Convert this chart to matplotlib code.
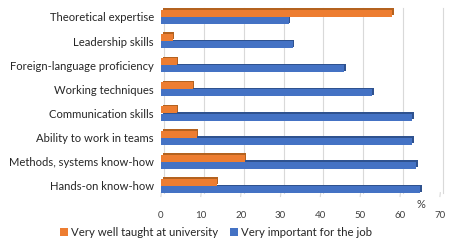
import matplotlib.pyplot as plt
import matplotlib.transforms as mtransforms
import numpy as np

plt.rcParams['font.family'] = ['Lato', 'DejaVu Sans']

# categories listed bottom to top
categories = ['Hands-on know-how', 'Methods, systems know-how', 'Ability to work in teams',
              'Communication skills', 'Working techniques', 'Foreign-language proficiency',
              'Leadership skills', 'Theoretical expertise']
taught = [14, 21, 9, 4, 8, 4, 3, 58]
important = [65, 64, 63, 63, 53, 46, 33, 32]
series_names = ['Very well taught at university', 'Very important for the job']
xticks = [0, 10, 20, 30, 40, 50, 60, 70]

orange, orange_dark = '#ED7D31', '#B4621F'
blue, blue_dark = '#4472C4', '#2F528F'

fig = plt.figure(figsize=(4.53, 2.45), dpi=100)
ax = fig.add_axes([161 / 453, 1 - 197 / 245, 279 / 453, 189 / 245])
ax.set_xlim(0, 70)
ax.set_ylim(-0.46, 7.37)

# back-wall gridlines shifted a bit (pseudo 3D), with a short floor tail
shift = mtransforms.offset_copy(ax.transData, fig=fig, x=3, y=0, units='dots')
for t in xticks:
    ax.plot([t, t], [-0.28, 7.37], color='#D9D9D9', lw=0.8, transform=shift, zorder=0, clip_on=False)
    ax.plot([t + 0.08, t - 0.02], [-0.28, -0.44], color='#D9D9D9', lw=0.8, zorder=0, clip_on=False)

y = np.arange(len(categories))
h = 0.29
depth = mtransforms.offset_copy(ax.transData, fig=fig, x=1.5, y=1.5, units='dots')
# darker "side" of each bar drawn behind
ax.barh(y + 0.15, taught, height=h, color=orange_dark, transform=depth, zorder=2)
ax.barh(y - 0.15, important, height=h, color=blue_dark, transform=depth, zorder=2)
ax.barh(y + 0.15, taught, height=h, color=orange, label=series_names[0], zorder=3)
ax.barh(y - 0.15, important, height=h, color=blue, label=series_names[1], zorder=3)

ax.set_yticks(y)
ax.set_yticklabels(categories, fontsize=8.1, color='#262626')
ax.set_xticks(xticks)
ax.set_xticklabels([str(t) for t in xticks], fontsize=7, color='#404040')
ax.tick_params(axis='both', length=0)
ax.tick_params(axis='x', pad=10)
ax.tick_params(axis='y', pad=5)
for s in ax.spines.values():
    s.set_visible(False)

ax.text(65.3, -0.75, '%', fontsize=8, color='#404040', ha='center', va='center')

ax.legend(loc='center', bbox_to_anchor=(216 / 453, 1 - 232 / 245), bbox_transform=fig.transFigure,
          ncol=2, frameon=False, fontsize=8.2, handlelength=0.7, handleheight=0.7,
          handletextpad=0.3, columnspacing=1.0, labelcolor='#262626')

fig.savefig('out.png', dpi=100)
